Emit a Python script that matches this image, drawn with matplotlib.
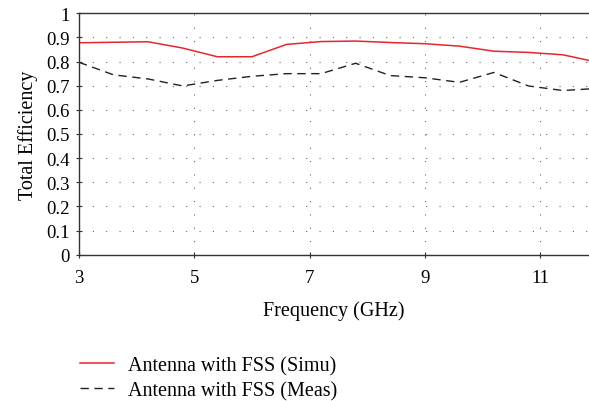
import matplotlib.pyplot as plt
import numpy as np

plt.rcParams['font.family'] = ['Liberation Serif', 'DejaVu Serif']

# frequency points (GHz)
freq = [3.0, 3.6, 4.2, 4.8, 5.4, 6.0, 6.6, 7.2, 7.8, 8.4, 9.0, 9.6, 10.2, 10.8, 11.4, 12.0]
# simulated efficiency
simu = [0.878, 0.880, 0.882, 0.856, 0.820, 0.820, 0.871, 0.883, 0.885, 0.879, 0.874, 0.864,
        0.843, 0.838, 0.828, 0.797]
# measured efficiency
meas = [0.797, 0.745, 0.728, 0.699, 0.722, 0.739, 0.750, 0.750, 0.793, 0.742, 0.733, 0.714,
        0.755, 0.699, 0.680, 0.689]

fig = plt.figure(figsize=(5.89, 4.02), dpi=100)
ax = fig.add_axes([79 / 589, 1 - 255.7 / 402, 1 - 79 / 589, (255.7 - 14.3) / 402])

ax.plot(freq, simu, color='#e8262e', lw=1.1, label='Antenna with FSS (Simu)')
ax.plot(freq, meas, color='#222222', lw=1.0, ls=(0, (6, 4)), label='Antenna with FSS (Meas)')

ax.set_xlim(3, 11.85)
ax.set_ylim(0, 1)
ax.set_xticks([3, 5, 7, 9, 11])
ax.set_yticks(np.round(np.arange(0, 1.01, 0.1), 1))
ax.set_yticklabels(['0', '0.1', '0.2', '0.3', '0.4', '0.5', '0.6', '0.7', '0.8', '0.9', '1'])

ax.grid(True, color='#666666', lw=0.8, ls=(0, (1, 11)))
for s in ['left', 'bottom', 'top']:
    ax.spines[s].set_color('#333333')
    ax.spines[s].set_linewidth(1.0)
ax.spines['right'].set_visible(False)
ax.tick_params(direction='inout', length=5, width=0.8, color='#333333', labelsize=13.5, pad=4)
ax.tick_params(axis='x', pad=8)

ax.set_xlabel('Frequency (GHz)', fontsize=14.5, labelpad=10)
ax.set_ylabel('Total Efficiency', fontsize=14.5, labelpad=6)

fig.legend(loc='upper left', bbox_to_anchor=(80 / 589, 1 - 357 / 402), frameon=False, fontsize=14.5,
           handlelength=1.7, handletextpad=0.7, labelspacing=0.3, borderpad=0, borderaxespad=0)

fig.savefig('out.png', dpi=100)
